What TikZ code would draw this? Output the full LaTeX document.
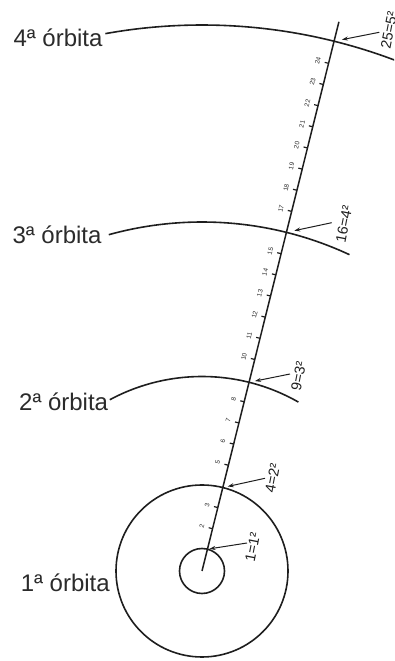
\documentclass[tikz,border=0pt]{standalone}
\usepackage{fontspec}
\setmainfont{Liberation Sans}
\usetikzlibrary{calc,arrows.meta}
\definecolor{ink}{HTML}{1E1E1E}
\definecolor{txt}{HTML}{2B2B2B}
\tikzset{
  orbit/.style={draw=ink, line width=1.6pt},
  scaleline/.style={draw=ink, line width=1.5pt},
  tickmark/.style={draw=ink, line width=1.2pt},
  ticklabel/.style={font=\fontsize{6.5}{7}\selectfont, text=txt, rotate=76, inner sep=0pt},
  orbitlabel/.style={font=\fontsize{24}{26}\selectfont, text=txt, inner sep=0pt, anchor=base east},
  sqlabel/.style={font=\fontsize{14.5}{16}\selectfont, text=ink, rotate=79, inner sep=0pt},
  pointer/.style={draw=ink, line width=1pt, -{Stealth[length=6pt,width=4pt]}}
}
\begin{document}
\begin{tikzpicture}[x=1pt,y=1pt]
\useasboundingbox (0,0) rectangle (394,661);
\clip (0,0) rectangle (394,661);
\coordinate (C) at (202,90);
% orbits
\draw[orbit] (C) circle[radius=22.5];
\draw[orbit] (C) circle[radius=86];
\draw[orbit] ($(C)+(60.3:194.5)$) arc[start angle=60.3, end angle=118.3, radius=194.5];
\draw[orbit] ($(C)+(65:349)$) arc[start angle=65, end angle=105.5, radius=349];
\draw[orbit] ($(C)+(68:546)$) arc[start angle=68, end angle=100.2, radius=546];
% scale line
\coordinate (top) at ($(C)+(76:566)$);
\draw[scaleline] (C) -- (top);
\foreach \k in {2,3,5,6,7,8,10,11,12,13,14,15,17,18,19,20,21,22,23,24}{
  \draw[tickmark] ($(C)+(76:{\k*21.8})$) -- ++(166:4);
  \node[ticklabel] (t\k) at ($(C)+(76:{\k*21.8})+(166:11)$) {\k};
}
% crossings
\coordinate (x1) at ($(C)+(76:22.5)$);
\coordinate (x2) at ($(C)+(76:86)$);
\coordinate (x3) at ($(C)+(76:194.5)$);
\coordinate (x4) at ($(C)+(76:349)$);
\coordinate (x5) at ($(C)+(76:546)$);
% orbit labels
\node[orbitlabel] (o1) at (110,69.3) {1ª órbita};
\node[orbitlabel] (o2) at (108.3,250.3) {2ª órbita};
\node[orbitlabel] (o3) at (101.7,417.7) {3ª órbita};
\node[orbitlabel] (o4) at (102.7,614.3) {4ª órbita};
% square labels
\node[sqlabel] (s1) at (252.5,113.5) {1=1²};
\node[sqlabel] (s2) at (272.5,182.5) {4=2²};
\node[sqlabel] (s3) at (298.5,285) {9=3²};
\node[sqlabel] (s4) at (344,437) {16=4²};
\node[sqlabel] (s5) at (389,631) {25=5²};
% arrows
\coordinate (a1) at (247,118);
\coordinate (a2) at (265,182.7);
\coordinate (a3) at (290,287);
\coordinate (a4) at (331.7,438.3);
\coordinate (a5) at (379.3,628.7);
\draw[pointer, shorten >=2pt] (a1) -- (x1);
\draw[pointer, shorten >=5pt] (a2) -- (x2);
\draw[pointer, shorten >=6pt] (a3) -- (x3);
\draw[pointer, shorten >=8pt] (a4) -- (x4);
\draw[pointer, shorten >=8pt] (a5) -- (x5);
\end{tikzpicture}
\end{document}
